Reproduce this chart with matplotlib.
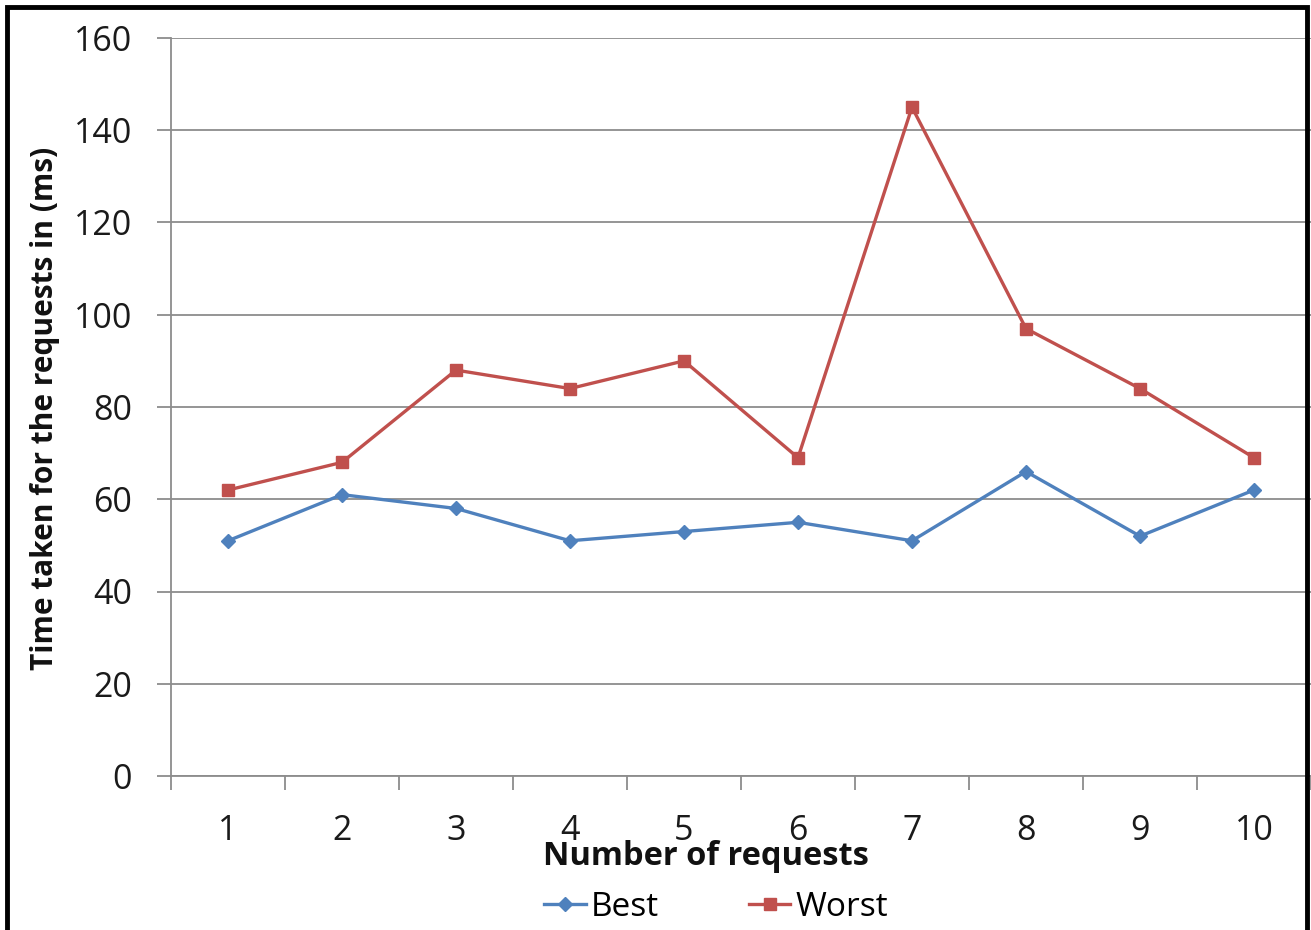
import matplotlib
matplotlib.use("Agg")
import matplotlib.pyplot as plt
from matplotlib.patches import Rectangle

categories = [1, 2, 3, 4, 5, 6, 7, 8, 9, 10]
best = [51, 61, 58, 51, 53, 55, 51, 66, 52, 62]
worst = [62, 68, 88, 84, 90, 69, 145, 97, 84, 69]
yticks = [0, 20, 40, 60, 80, 100, 120, 140, 160]

plt.rcParams['font.family'] = ['Open Sans', 'DejaVu Sans']

W, H = 1311, 930
fig = plt.figure(figsize=(W / 100, H / 100), dpi=100)
ax = fig.add_axes([171 / W, 1 - 776 / H, (1311 - 171) / W, (776 - 38) / H])

grey = '#8c8c8c'
ax.plot(categories, best, color='#4F81BD', lw=2.4, marker='D', ms=7,
        label='Best', zorder=3)
ax.plot(categories, worst, color='#C0504D', lw=2.4, marker='s', ms=9,
        label='Worst', zorder=3)

ax.set_xlim(0.5, 10.5)
ax.set_ylim(0, 160)
ax.set_yticks(yticks)
ax.set_xticks(categories)
ax.set_xticks([c - 0.5 for c in categories] + [10.5], minor=True)
ax.tick_params(axis='x', which='major', length=0, pad=27, labelsize=24.5,
               colors='#1a1a1a')
ax.tick_params(axis='x', which='minor', length=10, width=1.3, color=grey,
               direction='out')
ax.tick_params(axis='y', length=10, width=1.3, color=grey, pad=18,
               labelsize=24.5, labelcolor='#1a1a1a')
ax.grid(axis='y', color=grey, lw=1.3)
ax.set_axisbelow(True)
for s in ['top', 'right']:
    ax.spines[s].set_visible(False)
for s in ['left', 'bottom']:
    ax.spines[s].set_color(grey)
    ax.spines[s].set_linewidth(1.3)

fig.text(706 / W, 1 - 856 / H, 'Number of requests', ha='center', va='center',
         fontsize=23.5, fontweight='bold', color='#111111')
fig.text(45 / W, 1 - 408 / H, 'Time taken for the requests in (ms)',
         ha='center', va='center', rotation=90, fontsize=21.5,
         fontweight='bold', color='#111111')

fig.legend(loc='center', bbox_to_anchor=(716 / W, 1 - 907 / H), ncol=2,
           frameon=False, fontsize=24, handlelength=1.25, handletextpad=0.15,
           columnspacing=2.7, borderpad=0)

fig.patches.append(Rectangle((7 / W, -0.05), (1307 - 7) / W, 1.0 - 7 / H + 0.05,
                             transform=fig.transFigure, fill=False,
                             edgecolor='black', lw=3.5, zorder=10))

fig.savefig('out.png', dpi=100)
